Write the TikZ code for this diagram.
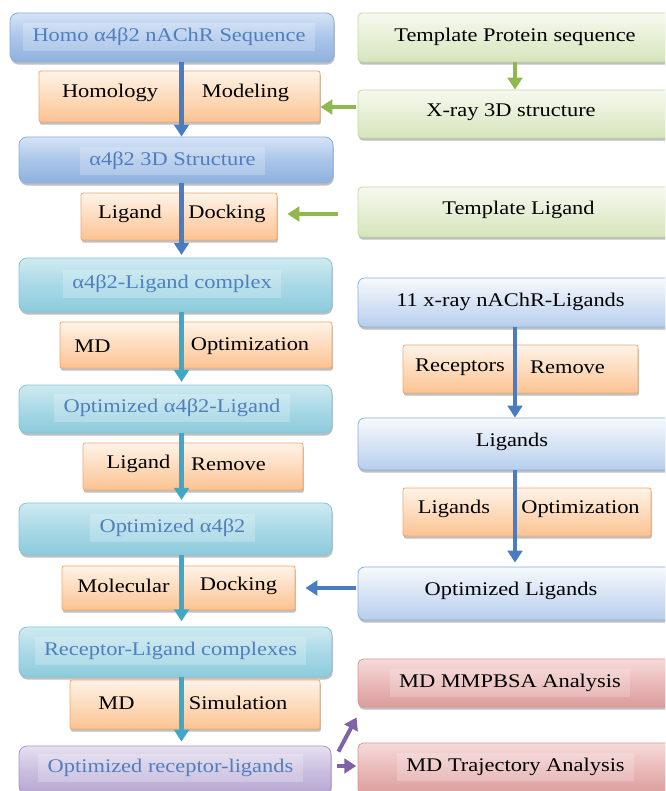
\documentclass[tikz,border=0pt]{standalone}
\usepackage{fontspec}
\setmainfont[FakeStretch=1.16]{Liberation Serif}
\usetikzlibrary{arrows.meta,shadows,calc}
\definecolor{bTop}{HTML}{D5E3F5}
\definecolor{bMid}{HTML}{AAC5EA}
\definecolor{bBot}{HTML}{8FB1DE}
\definecolor{bBord}{HTML}{8AAEDB}
\definecolor{bText}{HTML}{4F7FC0}
\definecolor{cTop}{HTML}{CFEAF1}
\definecolor{cMid}{HTML}{A9D9E6}
\definecolor{cBot}{HTML}{8CCBDC}
\definecolor{cBord}{HTML}{86C6D8}
\definecolor{oTop}{HTML}{FFF3E8}
\definecolor{oBot}{HTML}{FBC391}
\definecolor{oBord}{HTML}{F5A66A}
\definecolor{gTop}{HTML}{F6F9EF}
\definecolor{gBot}{HTML}{D6E5BB}
\definecolor{gBord}{HTML}{C5D9A0}
\definecolor{rTop}{HTML}{F6DADA}
\definecolor{rMid}{HTML}{EAB9B9}
\definecolor{rBot}{HTML}{DB9C9C}
\definecolor{rBord}{HTML}{D79494}
\definecolor{pTop}{HTML}{E6E0F0}
\definecolor{pMid}{HTML}{CBBFE0}
\definecolor{pBot}{HTML}{B6A5D2}
\definecolor{pBord}{HTML}{A996CC}
\definecolor{aBlue}{HTML}{4A7DC0}
\definecolor{aCyan}{HTML}{41A7C7}
\definecolor{aGreen}{HTML}{8FB84F}
\definecolor{aPurple}{HTML}{7F62A8}
\begin{document}
\begin{tikzpicture}[x=0.75pt,y=-0.75pt,
  box/.style={draw, line width=0.6pt, inner sep=0pt,
    drop shadow={shadow xshift=0.6pt, shadow yshift=-2pt, opacity=0.45, fill=black!55}},
  bluebox/.style={box, rounded corners=6pt, draw=bBord, top color=bTop, bottom color=bBot, middle color=bMid},
  cyanbox/.style={box, rounded corners=6pt, draw=cBord, top color=cTop, bottom color=cBot, middle color=cMid},
  purpbox/.style={box, rounded corners=6pt, draw=pBord, top color=pTop, bottom color=pBot, middle color=pMid},
  orbox/.style={box, rounded corners=1.5pt, draw=oBord, top color=oTop, bottom color=oBot},
  grbox/.style={box, rounded corners=3pt, draw=gBord, top color=gTop, bottom color=gBot},
  ltbbox/.style={box, rounded corners=5pt, draw=bBord, top color=white!80!bTop, bottom color=bMid!85!white},
  redbox/.style={box, rounded corners=4pt, draw=rBord, top color=rTop, bottom color=rBot, middle color=rMid},
  txt/.style={font=\fontsize{14.5}{16}\selectfont, inner sep=1pt},
  btxt/.style={txt, text=bText, fill=white, fill opacity=0.22, text opacity=1, inner xsep=7pt, inner ysep=4pt},
  rtxt/.style={txt, fill=white, fill opacity=0.2, text opacity=1, inner xsep=7pt, inner ysep=4pt},
  arr/.style={line width=3.4pt, -{Triangle[length=9pt,width=11pt]}},
  barr/.style={arr, draw=aBlue},
  carr/.style={arr, draw=aCyan},
  garr/.style={arr, draw=aGreen},
  parr/.style={arr, draw=aPurple, line width=3pt}
]
\useasboundingbox (0,0) rectangle (665,791);
\fill[white] (0,0) rectangle (665,791);
\clip (0,0) rectangle (665,791);

\coordinate (xL) at (181.5,0);
\coordinate (xR) at (515,0);

% ---------- left column boxes ----------
\node[bluebox, minimum width=243pt, minimum height=36.75pt] (A1) at (172,37.5) {};
\node[btxt] (A1t) at (169,37) {Homo α4β2 nAChR Sequence};
\node[bluebox, minimum width=235.5pt, minimum height=34.5pt] (A2) at (176,160) {};
\node[btxt] (A2t) at (172.5,161) {α4β2 3D Structure};
\node[cyanbox, minimum width=234.75pt, minimum height=40.5pt] (A3) at (175.5,285) {};
\node[btxt] (A3t) at (172,284) {α4β2-Ligand complex};
\node[cyanbox, minimum width=234.75pt, minimum height=36pt] (A4) at (175.5,409) {};
\node[btxt] (A4t) at (172,408) {Optimized α4β2-Ligand};
\node[cyanbox, minimum width=234.75pt, minimum height=39pt] (A5) at (175.5,529) {};
\node[btxt] (A5t) at (172.5,528) {Optimized α4β2};
\node[cyanbox, minimum width=234.75pt, minimum height=37.5pt] (A6) at (175.5,652) {};
\node[btxt] (A6t) at (170.5,651) {Receptor-Ligand complexes};
\node[purpbox, minimum width=234pt, minimum height=36pt] (A7) at (175,770) {};
\node[btxt] (A7t) at (170.5,768) {Optimized receptor-ligands};

% ---------- orange step boxes ----------
\node[orbox, minimum width=210.75pt, minimum height=38.25pt] (O1) at (179.5,96.5) {};
\node[txt] (O1a) at (110,93) {Homology};
\node[txt] (O1b) at (245.5,93) {Modeling};
\node[orbox, minimum width=147pt, minimum height=35.25pt] (O2) at (179,216.5) {};
\node[txt] (O2a) at (130,214) {Ligand};
\node[txt] (O2b) at (227,214) {Docking};
\node[orbox, minimum width=204pt, minimum height=34.5pt] (O3) at (196,345) {};
\node[txt] (O3a) at (92.5,346) {MD};
\node[txt] (O3b) at (250,346) {Optimization};
\node[orbox, minimum width=165pt, minimum height=35.25pt] (O4) at (193,466.5) {};
\node[txt] (O4a) at (138.5,464) {Ligand};
\node[txt] (O4b) at (228.5,464) {Remove};
\node[orbox, minimum width=174.75pt, minimum height=33pt] (O5) at (178.5,588) {};
\node[txt] (O5a) at (123.5,586) {Molecular};
\node[txt] (O5b) at (238.5,586) {Docking};
\node[orbox, minimum width=187.5pt, minimum height=36.75pt] (O6) at (195,704.5) {};
\node[txt] (O6a) at (116.5,703) {MD};
\node[txt] (O6b) at (238,703) {Simulation};
\node[orbox, minimum width=176.25pt, minimum height=36pt] (O7) at (520.5,369) {};
\node[txt] (O7a) at (460,367) {Receptors};
\node[txt] (O7b) at (567.5,367) {Remove};
\node[orbox, minimum width=186pt, minimum height=36pt] (O8) at (527,512) {};
\node[txt] (O8a) at (454,509) {Ligands};
\node[txt] (O8b) at (580.5,509) {Optimization};

% ---------- right column boxes ----------
\node[grbox, minimum width=256.5pt, minimum height=36.75pt] (G1) at (529,37.5) {};
\node[txt] (G1t) at (515,37) {Template Protein sequence};
\node[grbox, minimum width=256.5pt, minimum height=36pt] (G2) at (529,114) {};
\node[txt] (G2t) at (511,112) {X-ray 3D structure};
\node[grbox, minimum width=256.5pt, minimum height=37.5pt] (G3) at (529,212) {};
\node[txt] (G3t) at (518.5,210) {Template Ligand};
\node[ltbbox, minimum width=256.5pt, minimum height=36.75pt] (B1) at (529,302.5) {};
\node[txt] (B1t) at (510.5,302) {11 x-ray nAChR-Ligands};
\node[ltbbox, minimum width=256.5pt, minimum height=39pt] (B2) at (529,444) {};
\node[txt] (B2t) at (512,442) {Ligands};
\node[ltbbox, minimum width=256.5pt, minimum height=39.75pt] (B3) at (529,593.5) {};
\node[txt] (B3t) at (511,591) {Optimized Ligands};
\node[redbox, minimum width=256.5pt, minimum height=36pt] (R1) at (529,683) {};
\node[rtxt] (R1t) at (510,683) {MD MMPBSA Analysis};
\node[redbox, minimum width=256.5pt, minimum height=39pt] (R2) at (529,769) {};
\node[rtxt] (R2t) at (515.5,767) {MD Trajectory Analysis};

% ---------- arrows ----------
\draw[barr] (A1.south -| xL) -- (A2.north -| xL);
\draw[barr, shorten >=2pt] (A2.south -| xL) -- (A3.north -| xL);
\draw[carr, shorten >=2pt] (A3.south -| xL) -- (A4.north -| xL);
\draw[carr, shorten >=2pt] (A4.south -| xL) -- (A5.north -| xL);
\draw[carr, shorten >=4pt] (A5.south -| xL) -- (A6.north -| xL);
\draw[carr, shorten >=3pt] (A6.south -| xL) -- (A7.north -| xL);

\draw[barr] (B1.south -| xR) -- (B2.north -| xR);
\draw[barr, shorten >=3pt] (B2.south -| xR) -- (B3.north -| xR);

\draw[garr] (G1.south -| xR) -- (G2.north -| xR);
\coordinate (yA) at (0,107);
\coordinate (yB) at (0,214);
\coordinate (yC) at (0,588);
\coordinate (yD) at (0,766);
\draw[garr, shorten <=1pt] (G2.west |- yA) -- (O1.east |- yA);
\draw[garr, shorten <=15pt, shorten >=7.5pt] (G3.west |- yB) -- (O2.east |- yB);
\draw[barr, shorten <=1pt, shorten >=7.5pt] (B3.west |- yC) -- (O5.east |- yC);

\draw[parr] ($(A7.north east)+(7,6)$) -- ($(R1.south west)+(-1,10)$);
\draw[parr, shorten <=4.5pt, shorten >=1pt] (A7.east |- yD) -- (R2.west |- yD);
\end{tikzpicture}
\end{document}
